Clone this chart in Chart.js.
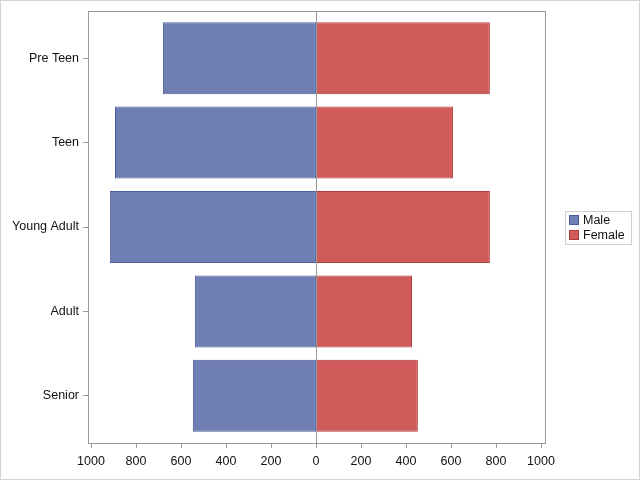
<!DOCTYPE html>
<html>
<head>
<meta charset="utf-8">
<script src="https://cdn.jsdelivr.net/npm/chart.js@4"></script>
<style>
  html, body { margin: 0; padding: 0; background: #fff; }
  #wrap { width: 640px; height: 480px; }
</style>
</head>
<body>
<div id="wrap"><canvas id="butterfly" width="640" height="480"></canvas></div>
<script>
const ageGroups = ['Pre Teen', 'Teen', 'Young Adult', 'Adult', 'Senior'];
const maleCounts = [680, 893, 916, 538, 547];
const femaleCounts = [773, 609, 773, 427, 453];
const countTicks = [-1000, -800, -600, -400, -200, 0, 200, 400, 600, 800, 1000];

const FONT = "'Liberation Sans', Arial, sans-serif";
const FRAME = '#9a9a9a';
const PAD = 5; // frame sits a little outside the category range

// frame, zero line, x tick marks, outer border and the legend box
const extras = {
  id: 'extras',
  afterDatasetsDraw(chart) {
    const { ctx, chartArea: a, scales } = chart;
    const top = Math.round(a.top) - PAD, bottom = Math.round(a.bottom) + PAD;
    const x0 = Math.round(scales.x.getPixelForValue(0)) + 0.5;
    ctx.save();
    ctx.strokeStyle = FRAME;
    ctx.lineWidth = 1;
    ctx.beginPath();
    ctx.moveTo(x0, top);
    ctx.lineTo(x0, bottom);
    scales.x.ticks.forEach(t => {
      const x = Math.round(scales.x.getPixelForValue(t.value)) + 0.5;
      ctx.moveTo(x, bottom);
      ctx.lineTo(x, bottom + 5);
    });
    ctx.stroke();
    ctx.strokeRect(Math.round(a.left) + 0.5, top + 0.5,
      Math.round(a.right - a.left), bottom - top);
    ctx.restore();
  },
  afterDraw(chart) {
    const { ctx } = chart;
    ctx.save();
    ctx.strokeStyle = '#d4d4d4';
    ctx.strokeRect(0.5, 0.5, chart.width - 1, chart.height - 1);

    // legend
    const lx = 565, ly = 211, lw = 66, lh = 33;
    ctx.strokeStyle = '#d0d0d0';
    ctx.strokeRect(lx + 0.5, ly + 0.5, lw, lh);
    ctx.font = '12.5px ' + FONT;
    ctx.textBaseline = 'middle';
    chart.data.datasets.forEach((ds, i) => {
      const y = ly + 9 + i * 15;
      ctx.fillStyle = ds.backgroundColor;
      ctx.fillRect(lx + 4, y - 5, 10, 10);
      ctx.strokeStyle = ds.borderColor;
      ctx.strokeRect(lx + 4.5, y - 4.5, 9, 9);
      ctx.fillStyle = '#111';
      ctx.fillText(ds.label, lx + 18, y + 1);
    });
    ctx.restore();
  }
};

new Chart(document.getElementById('butterfly').getContext('2d'), {
  type: 'bar',
  data: {
    labels: ageGroups,
    datasets: [{
      label: 'Male',
      data: maleCounts.map(v => -v),
      backgroundColor: '#6f7eb3',
      borderColor: '#4b5b9c',
      borderWidth: 1,
      borderSkipped: false
    }, {
      label: 'Female',
      data: femaleCounts,
      backgroundColor: '#d05b5b',
      borderColor: '#b03c3c',
      borderWidth: 1,
      borderSkipped: false
    }]
  },
  options: {
    indexAxis: 'y',
    responsive: false,
    animation: false,
    layout: { padding: { top: 16, right: 95, left: 0, bottom: 0 } },
    datasets: { bar: { barPercentage: 0.853, categoryPercentage: 1 } },
    plugins: {
      legend: { display: false },
      tooltip: { enabled: false }
    },
    scales: {
      x: {
        stacked: true,
        min: -1013,
        max: 1018,
        afterBuildTicks(scale) {
          scale.ticks = countTicks.map(value => ({ value }));
        },
        afterFit(scale) { scale.height = 42; },
        ticks: {
          padding: 8,
          color: '#111',
          maxRotation: 0,
          autoSkip: false,
          font: { family: FONT, size: 12.5 },
          callback: v => Math.abs(v)
        },
        grid: { display: false },
        border: { display: false }
      },
      y: {
        stacked: true,
        afterFit(scale) { scale.width = 88; },
        ticks: {
          padding: 4,
          color: '#111',
          font: { family: FONT, size: 12.5 }
        },
        grid: { drawOnChartArea: false, offset: false, tickLength: 5, color: FRAME },
        border: { display: false }
      }
    }
  },
  plugins: [extras]
});
</script>
</body>
</html>
